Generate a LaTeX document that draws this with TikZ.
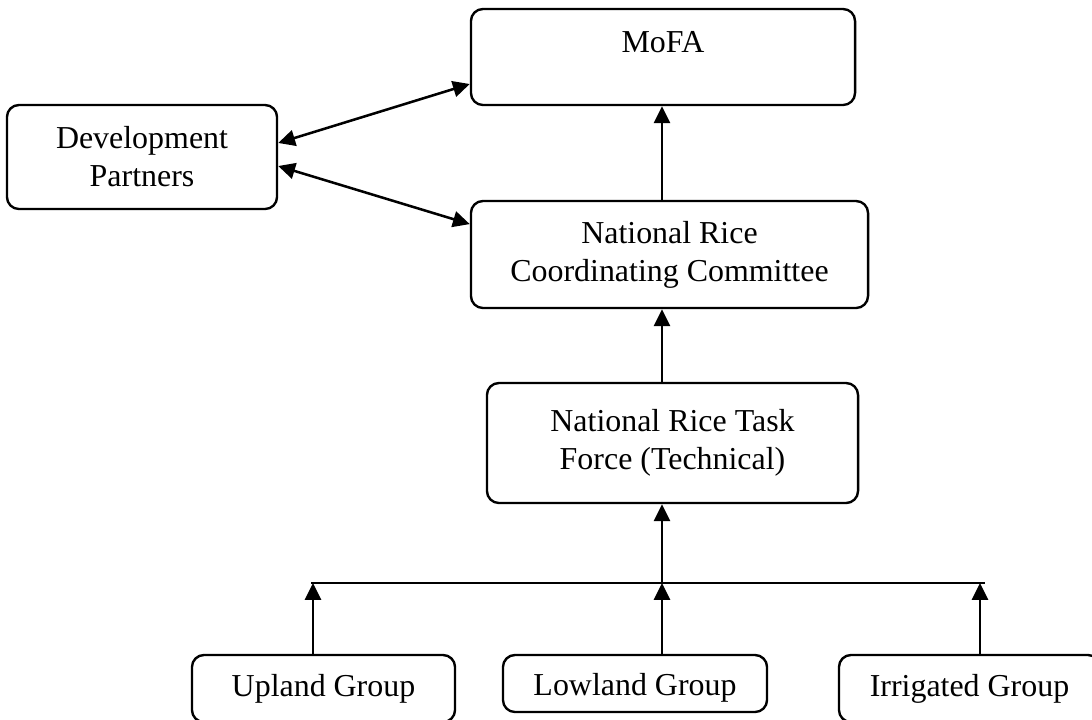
\documentclass[tikz,border=0pt]{standalone}
\usepackage{fontspec}
\setmainfont{Liberation Serif}
\usetikzlibrary{arrows.meta}

\begin{document}
\begin{tikzpicture}[x=0.025cm,y=-0.025cm,
  box/.style={draw=black,line width=1.7pt,rounded corners=0.3cm,align=center,
    font=\fontsize{22.7}{27}\selectfont,inner sep=0pt},
  link/.style={draw=black,line width=1.8pt,-{Triangle[length=0.42cm,width=0.4cm]}},
  both/.style={link,{Triangle[length=0.42cm,width=0.4cm]}-{Triangle[length=0.42cm,width=0.4cm]}}]

% page:
\path[use as bounding box,fill=white] (0,0) rectangle (1092,719);

% boxes:
\node[box,minimum width=9.6cm,minimum height=2.4cm,text height=0.55cm,text depth=0.8cm] (mofa) at (663,57) {MoFA};
\node[box,minimum width=6.75cm,minimum height=2.6cm] (partners) at (142,157) {Development\\Partners};
\node[box,minimum width=9.925cm,minimum height=2.675cm] (nrcc) at (669.5,254.5) {National Rice\\Coordinating Committee};
\node[box,minimum width=9.275cm,minimum height=3cm] (taskforce) at (672.5,443) {National Rice Task\\Force (Technical)};
\node[box,minimum width=6.575cm,minimum height=1.675cm] (upland) at (323.5,688.5) {Upland Group};
\node[box,minimum width=6.6cm,minimum height=1.425cm,text height=0.6cm,text depth=0.025cm] (lowland) at (635,683.5) {Lowland Group};
\node[box,minimum width=6.525cm,minimum height=1.675cm] (irrigated) at (969.5,688.5) {Irrigated Group};

% links:
\coordinate (bus west) at (311,583);
\coordinate (bus east) at (985,583);
\coordinate (uptap) at (313,583);
\coordinate (lowtap) at (662,583);
\coordinate (irrtap) at (980,583);
\draw[black,line width=1.8pt] (bus west) -- (bus east);
\draw[link] (upland.north -| uptap) -- (uptap);
\draw[link] (lowland.north -| lowtap) -- (lowtap);
\draw[link] (irrigated.north -| irrtap) -- (irrtap);
\draw[link] (lowtap) -- (taskforce.south -| lowtap);
\draw[link] (taskforce.north -| lowtap) -- (nrcc.south -| lowtap);
\draw[link] (nrcc.north -| lowtap) -- (mofa.south -| lowtap);
\draw[both] ([yshift=0.35cm]partners.east) -- ([yshift=-0.675cm]mofa.west);
\draw[both] ([yshift=-0.225cm]partners.east) -- ([yshift=0.76cm]nrcc.west);

\end{tikzpicture}
\end{document}
